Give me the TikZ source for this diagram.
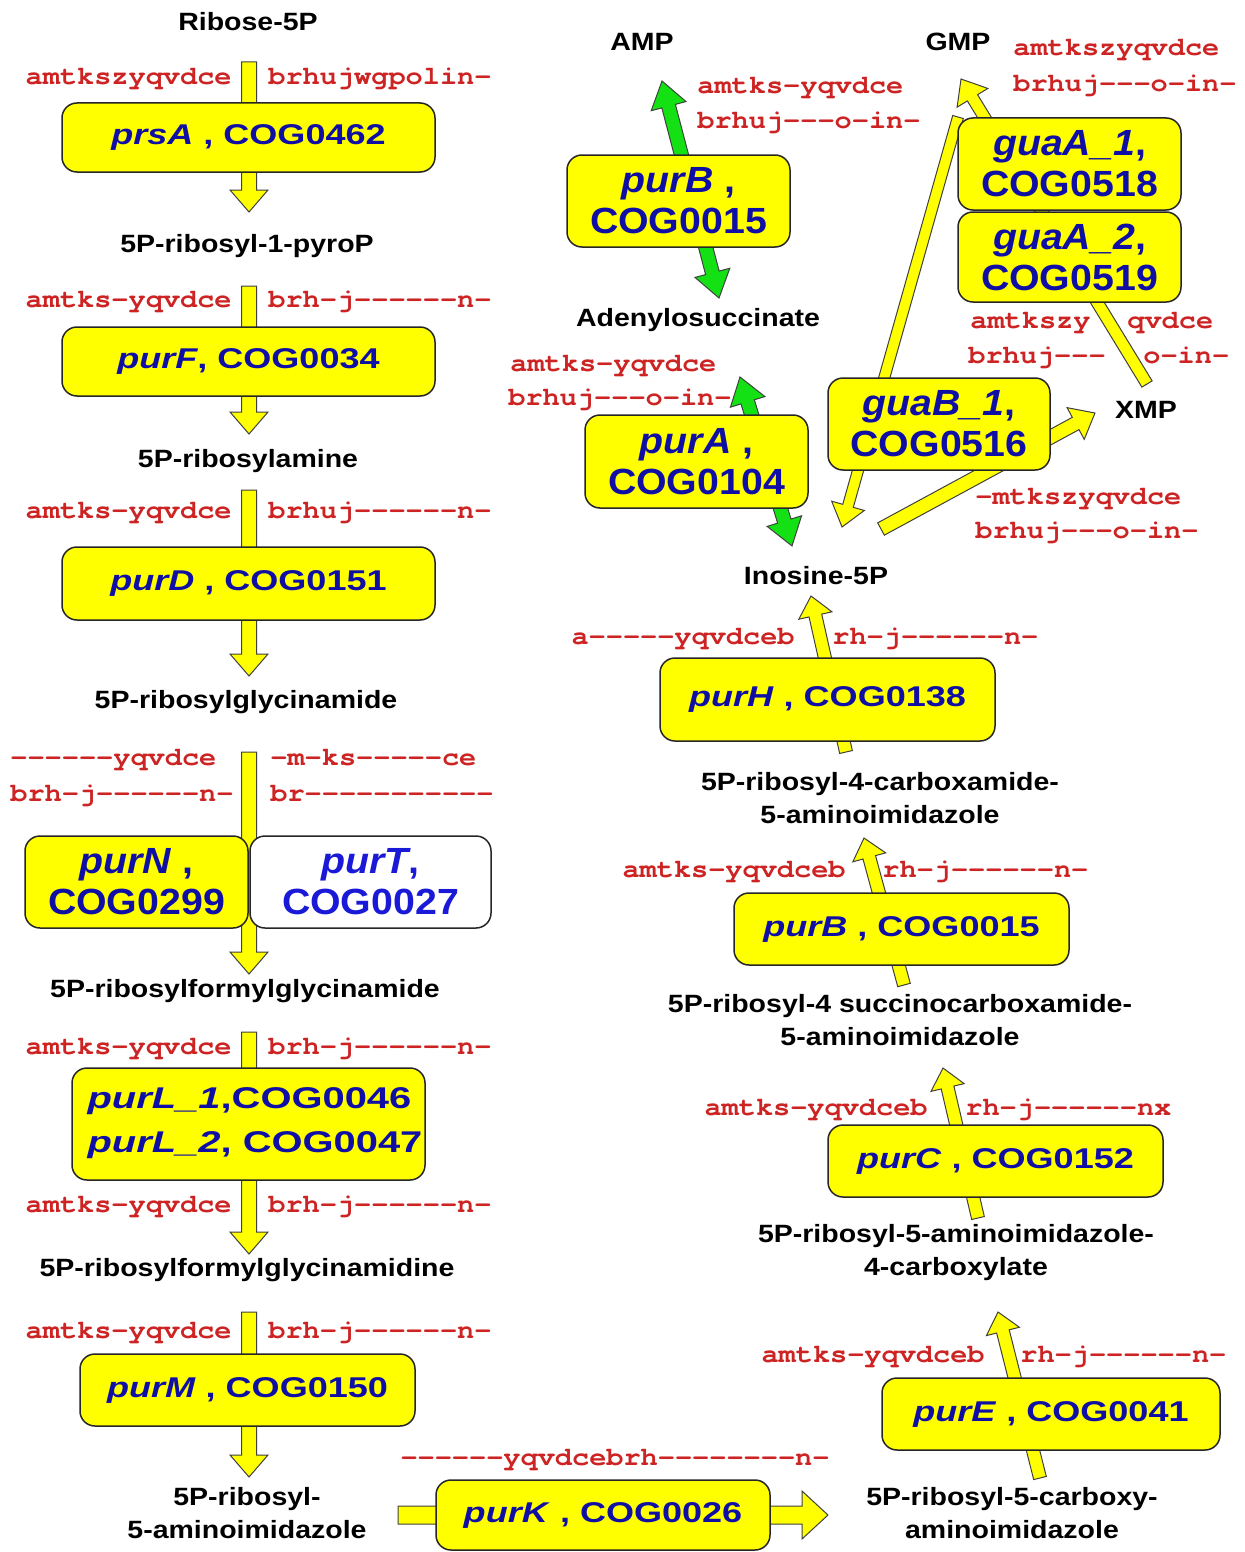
\documentclass[tikz,border=0pt]{standalone}
\usepackage{fontspec}
\setmainfont{Liberation Sans}
\newfontfamily\labfont[FakeStretch=1.14]{Liberation Sans}
\newfontfamily\genfont[FakeStretch=1.26]{Liberation Sans}
\newfontfamily\genmid[FakeStretch=1.08]{Liberation Sans}
\newfontfamily\genwide[FakeStretch=1.33]{Liberation Sans}
\newfontfamily\codefont[FakeStretch=1.1]{texgyrecursor-bold.otf}
\usetikzlibrary{calc}

\definecolor{codered}{RGB}{205,35,35}
\definecolor{genblue}{RGB}{15,15,165}
\definecolor{genbright}{RGB}{25,25,215}
\definecolor{flowyellow}{RGB}{255,255,0}
\definecolor{flowgreen}{RGB}{20,225,20}

% geometry of the block arrows: half shaft, half head, head length (pt)
\newcommand\bkgeom[3]{\def\bkw{#1}\def\bkh{#2}\def\bkl{#3}}
\newcommand\bkprep[2]{%
  \pgfpointdiff{\pgfpointanchor{#1}{center}}{\pgfpointanchor{#2}{center}}%
  \pgfgetlastxy{\bkdx}{\bkdy}%
  \pgfmathsetmacro\bklen{veclen(\bkdx,\bkdy)}%
  \pgfmathsetmacro\bkang{atan2(\bkdy,\bkdx)}%
  \pgfmathsetmacro\bkb{\bklen-\bkl}}
% single-headed block arrow from #2 to #3
\newcommand\blockarrow[3][]{%
  \bkprep{#2}{#3}%
  \begin{scope}[shift={(#2)},rotate=\bkang]
    \draw[flowarrow,#1] (0pt,-\bkw pt) -- (\bkb pt,-\bkw pt) -- (\bkb pt,-\bkh pt)
      -- (\bklen pt,0pt) -- (\bkb pt,\bkh pt) -- (\bkb pt,\bkw pt) -- (0pt,\bkw pt) -- cycle;
  \end{scope}}
% double-headed block arrow between #2 and #3
\newcommand\dblarrow[3][]{%
  \bkprep{#2}{#3}%
  \begin{scope}[shift={(#2)},rotate=\bkang]
    \draw[flowarrow,#1] (0pt,0pt) -- (\bkl pt,\bkh pt) -- (\bkl pt,\bkw pt) -- (\bkb pt,\bkw pt)
      -- (\bkb pt,\bkh pt) -- (\bklen pt,0pt) -- (\bkb pt,-\bkh pt) -- (\bkb pt,-\bkw pt)
      -- (\bkl pt,-\bkw pt) -- (\bkl pt,-\bkh pt) -- cycle;
  \end{scope}}

\begin{document}
\begin{tikzpicture}[x=0.5pt,y=-0.5pt,
  flowarrow/.style={fill=flowyellow,draw=black!75,line width=0.5pt,line join=miter},
  greenarrow/.style={fill=flowgreen},
  metab/.style={inner sep=0pt,align=center,text=black,font=\labfont\bfseries\fontsize{12.5}{16.5}\selectfont},
  strain/.style={inner sep=0pt,text=codered,font=\codefont\fontsize{13}{17}\selectfont},
  enz/.style={draw=black!85,line width=0.75pt,fill=flowyellow,rounded corners=7.5pt,inner sep=0pt,
    align=center,text=genblue,font=\genfont\bfseries\fontsize{14.3}{17}\selectfont},
  enztwo/.style={enz,font=\genmid\bfseries\fontsize{18.2}{20.5}\selectfont},
  genetext/.style={inner sep=0pt,align=left,text=genblue,font=\genwide\bfseries\fontsize{15}{22}\selectfont}]

\fill[white] (0,0) rectangle (1244,1552);
\useasboundingbox (0,0) rectangle (1244,1552);

% ---------- metabolites ----------
\node[metab] (r5p)    at (248,22)   {Ribose-5P};
\node[metab] (prpp)   at (247,246)  {5P-ribosyl-1-pyroP};
\node[metab] (pra)    at (248,461)  {5P-ribosylamine};
\node[metab] (gar)    at (246,702)  {5P-ribosylglycinamide};
\node[metab] (fgar)   at (245,991)  {5P-ribosylformylglycinamide};
\node[metab] (fgam)   at (247,1270) {5P-ribosylformylglycinamidine};
\node[metab] (air)    at (247,1513) {5P-ribosyl-\\5-aminoimidazole};
\node[metab] (cair)   at (1012,1513){5P-ribosyl-5-carboxy-\\aminoimidazole};
\node[metab] (caira)  at (956,1253) {5P-ribosyl-5-aminoimidazole-\\4-carboxylate};
\node[metab] (saicar) at (900,1020) {5P-ribosyl-4 succinocarboxamide-\\5-aminoimidazole};
\node[metab] (aicar)  at (880,798)  {5P-ribosyl-4-carboxamide-\\5-aminoimidazole};
\node[metab] (imp)    at (816,576)  {Inosine-5P};
\node[metab] (adsucc) at (698,320)  {Adenylosuccinate};
\node[metab] (amp)    at (642,42)   {AMP};
\node[metab] (gmp)    at (958,42)   {GMP};
\node[metab] (xmp)    at (1146,410) {XMP};

% ---------- arrow end points ----------
\coordinate (a1s) at (249,62);    \coordinate (a1e) at (249,212);
\coordinate (a2s) at (249,286);   \coordinate (a2e) at (249,434);
\coordinate (a3s) at (249,490);   \coordinate (a3e) at (249,676);
\coordinate (a4s) at (249,752);   \coordinate (a4e) at (249,974);
\coordinate (a5s) at (249,1032);  \coordinate (a5e) at (249,1254);
\coordinate (a6s) at (249,1312);  \coordinate (a6e) at (249,1477);
\coordinate (kS)  at (398,1515);  \coordinate (kE)  at (828,1515);
\coordinate (eS)  at (1040,1478); \coordinate (eE)  at (998,1312);
\coordinate (cS)  at (978,1218);  \coordinate (cE)  at (943,1068);
\coordinate (bS)  at (904,985);   \coordinate (bE)  at (864,838);
\coordinate (hS)  at (846,752);   \coordinate (hE)  at (811,596);
\coordinate (gA1) at (740,377);   \coordinate (gA2) at (792,546);
\coordinate (gB1) at (662,81);    \coordinate (gB2) at (719,298);
\coordinate (rS)  at (958,117);   \coordinate (rE)  at (842,527);
\coordinate (xS)  at (881,529);   \coordinate (xE)  at (1095,413);
\coordinate (qS)  at (1147,384);  \coordinate (qE)  at (961,79);

% ---------- arrows (behind the enzyme boxes) ----------
\bkgeom{3.75}{9.5}{11}
\blockarrow{a1s}{a1e} \blockarrow{a2s}{a2e} \blockarrow{a3s}{a3e}
\blockarrow{a4s}{a4e} \blockarrow{a5s}{a5e} \blockarrow{a6s}{a6e}
\bkgeom{4.5}{12}{13}
\blockarrow{kS}{kE}
\bkgeom{3.25}{8.5}{10}
\blockarrow{eS}{eE} \blockarrow{cS}{cE} \blockarrow{bS}{bE} \blockarrow{hS}{hE}
\bkgeom{3.5}{9}{13}
\dblarrow[greenarrow]{gA1}{gA2} \dblarrow[greenarrow]{gB1}{gB2}
\bkgeom{2.75}{8.5}{11}
\blockarrow{rS}{rE}
\bkgeom{3.5}{9}{11}
\blockarrow{xS}{xE}
\bkgeom{3}{9}{11}
\blockarrow{qS}{qE}

% ---------- enzyme boxes ----------
\node[enz, minimum width=186.5pt, minimum height=34.5pt] (prsA) at (248.5,137.5) {\textit{prsA} , COG0462};
\node[enz, minimum width=186.5pt, minimum height=34.5pt] (purF) at (248.5,361.5) {\textit{purF}, COG0034};
\node[enz, minimum width=186.5pt, minimum height=36.5pt] (purD) at (248.5,583.5) {\textit{purD} , COG0151};
\node[enztwo, minimum width=111.5pt, minimum height=46pt] (purN) at (136.5,882) {\textit{purN} ,\\COG0299};
\node[enztwo, fill=white, text=genbright, minimum width=120.5pt, minimum height=46pt] (purT) at (370.5,882) {\textit{purT},\\COG0027};
\node[enz, minimum width=176.5pt, minimum height=56pt] (purL) at (248.5,1124) {};
\node[genetext] (purLtxt) at (255,1123) {\textit{purL\_1},COG0046\\\textit{purL\_2}, COG0047};
\node[enz, minimum width=167.5pt, minimum height=36pt] (purM) at (247.5,1390) {\textit{purM} , COG0150};
\node[enz, minimum width=167pt, minimum height=35pt] (purK) at (603,1515) {\textit{purK} , COG0026};
\node[enz, minimum width=169pt, minimum height=36pt] (purE) at (1051,1414) {\textit{purE} , COG0041};
\node[enz, minimum width=167.5pt, minimum height=36pt] (purC) at (995.5,1161) {\textit{purC} , COG0152};
\node[enz, minimum width=167.5pt, minimum height=36pt] (purB) at (901.5,929) {\textit{purB} , COG0015};
\node[enz, minimum width=167.5pt, minimum height=41.5pt] (purH) at (827.5,699.5) {\textit{purH} , COG0138};
\node[enztwo, minimum width=111.5pt, minimum height=46.5pt] (purA) at (696.5,461.5) {\textit{purA} ,\\COG0104};
\node[enztwo, minimum width=111.5pt, minimum height=46pt] (purBb) at (678.5,201) {\textit{purB} ,\\COG0015};
\node[enztwo, minimum width=111.5pt, minimum height=46pt] (guaAa) at (1069.5,164) {\textit{guaA\_1},\\COG0518};
\node[enztwo, minimum width=111.5pt, minimum height=45pt] (guaAb) at (1069.5,257) {\textit{guaA\_2},\\COG0519};
\node[enztwo, minimum width=111pt, minimum height=46pt] (guaB) at (939,424) {\textit{guaB\_1},\\COG0516};

% ---------- organism strings ----------
\node[strain, anchor=base east] (s1l) at (232,85)  {amtkszyqvdce};
\node[strain, anchor=base west] (s1r) at (268,85)  {brhujwgpolin-};
\node[strain, anchor=base east] (s2l) at (232,307) {amtks-yqvdce};
\node[strain, anchor=base west] (s2r) at (268,307) {brh-j------n-};
\node[strain, anchor=base east] (s3l) at (232,518) {amtks-yqvdce};
\node[strain, anchor=base west] (s3r) at (268,518) {brhuj------n-};
\node[strain, anchor=base west] (s4a) at (10,765)  {------yqvdce};
\node[strain, anchor=base west] (s4b) at (10,801)  {brh-j------n-};
\node[strain, anchor=base west] (s4c) at (270,765) {-m-ks-----ce};
\node[strain, anchor=base west] (s4d) at (270,801) {br-----------};
\node[strain, anchor=base east] (s5l) at (232,1054) {amtks-yqvdce};
\node[strain, anchor=base west] (s5r) at (268,1054) {brh-j------n-};
\node[strain, anchor=base east] (s6l) at (232,1212) {amtks-yqvdce};
\node[strain, anchor=base west] (s6r) at (268,1212) {brh-j------n-};
\node[strain, anchor=base east] (s7l) at (232,1338) {amtks-yqvdce};
\node[strain, anchor=base west] (s7r) at (268,1338) {brh-j------n-};
\node[strain, anchor=base] (sK) at (615,1465) {------yqvdcebrh--------n-};
\node[strain, anchor=base east] (sEl) at (985,1362)  {amtks-yqvdceb};
\node[strain, anchor=base west] (sEr) at (1020,1362) {rh-j------n-};
\node[strain, anchor=base east] (sCl) at (928,1115)  {amtks-yqvdceb};
\node[strain, anchor=base west] (sCr) at (965,1115)  {rh-j------nx};
\node[strain, anchor=base east] (sBl) at (846,877)   {amtks-yqvdceb};
\node[strain, anchor=base west] (sBr) at (882,877)   {rh-j------n-};
\node[strain, anchor=base east] (sHl) at (795,644)   {a-----yqvdceb};
\node[strain, anchor=base west] (sHr) at (832,644)   {rh-j------n-};
\node[strain, anchor=base west] (sAMa) at (697,94)   {amtks-yqvdce};
\node[strain, anchor=base west] (sAMb) at (697,128)  {brhuj---o-in-};
\node[strain, anchor=base west] (sGMa) at (1013,56)  {amtkszyqvdce};
\node[strain, anchor=base west] (sGMb) at (1013,91)  {brhuj---o-in-};
\node[strain, anchor=base west] (sQa) at (970,328)   {amtkszy};
\node[strain, anchor=base west] (sQb) at (1127,328)  {qvdce};
\node[strain, anchor=base west] (sQc) at (968,363)   {brhuj---};
\node[strain, anchor=base west] (sQd) at (1143,363)  {o-in-};
\node[strain, anchor=base west] (sPa) at (510,371)   {amtks-yqvdce};
\node[strain, anchor=base west] (sPb) at (508,405)   {brhuj---o-in-};
\node[strain, anchor=base west] (sXa) at (975,504)   {-mtkszyqvdce};
\node[strain, anchor=base west] (sXb) at (975,538)   {brhuj---o-in-};
\end{tikzpicture}
\end{document}
